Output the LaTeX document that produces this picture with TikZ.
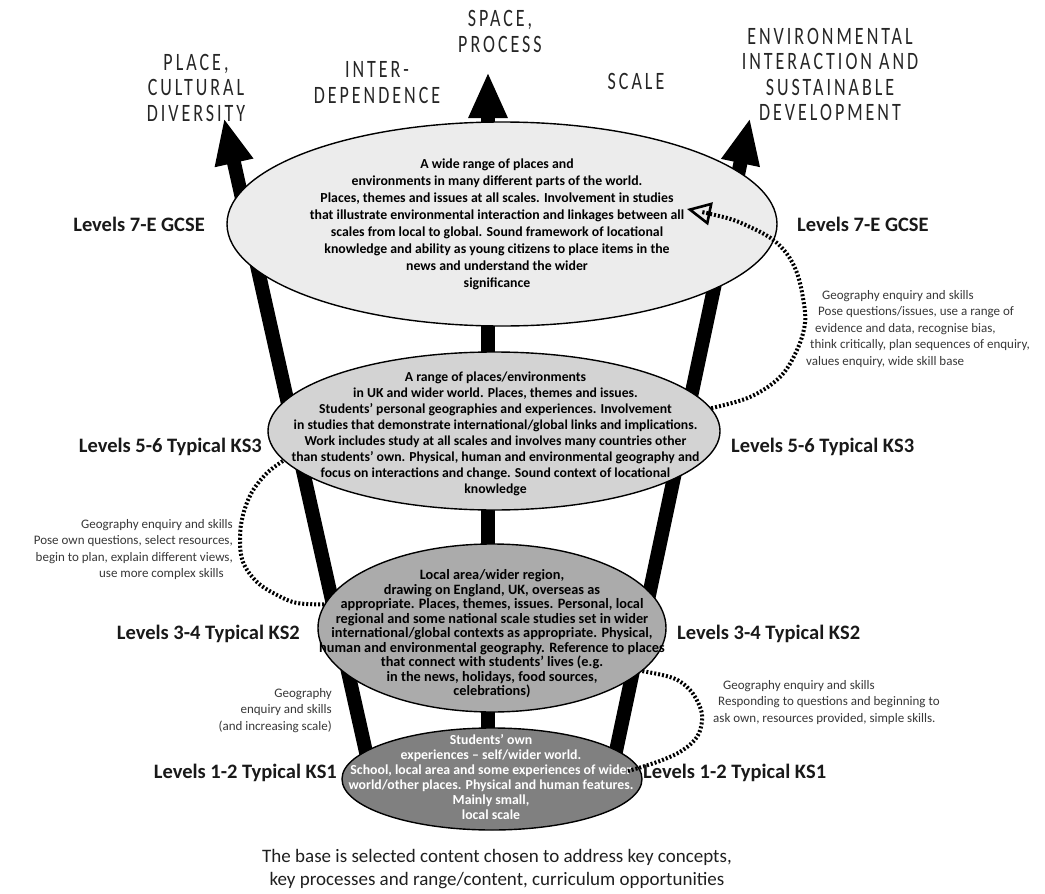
\documentclass[tikz,border=0pt]{standalone}
\usepackage{fontspec}
\setmainfont{Carlito}
\newfontfamily\capsfont[FakeStretch=0.72,LetterSpace=12]{Carlito}
\usetikzlibrary{arrows.meta,shapes.geometric,calc}
\definecolor{gA}{HTML}{ECECEC}
\definecolor{gB}{HTML}{D3D3D3}
\definecolor{gC}{HTML}{ABABAB}
\definecolor{gD}{HTML}{808080}
\begin{document}
\begin{tikzpicture}[x=1pt,y=-1pt,
  ell/.style={ellipse, draw=black, line width=1.4pt, inner sep=0pt},
  bigarrow/.style={line width=14pt, -{Triangle[length=46pt,width=36pt]}},
  dots/.style={line width=4pt, dash pattern=on 2pt off 2pt},
  lvl/.style={font=\bfseries\fontsize{20.5}{24}\selectfont, text=black!90, inner sep=0pt},
  captxt/.style={font=\capsfont\fontsize{25}{25.5}\selectfont, align=center, text=black!85, inner sep=0pt},
  note/.style={font=\fontsize{13}{16.5}\selectfont, text=black!78, inner sep=0pt},
  etext/.style={align=center, inner sep=0pt, text=black}
]
\useasboundingbox (0,0) rectangle (1045,894);
\fill[white] (0,0) rectangle (1045,894);

% big arrows
\coordinate (lb) at (370,770); \coordinate (lt) at (224,118);
\coordinate (cb) at (488,770); \coordinate (ct) at (488,72);
\coordinate (rb) at (612,770); \coordinate (rt) at (750,118);
\draw[bigarrow] (lb) -- (lt);
\draw[bigarrow] (cb) -- (ct);
\draw[bigarrow] (rb) -- (rt);

% ellipses
\node[ell, fill=gA, minimum width=550pt, minimum height=204pt] (e1) at (502,224) {};
\node[ell, fill=gB, minimum width=452pt, minimum height=158pt] (e2) at (494,431) {};
\node[ell, fill=gC, minimum width=348pt, minimum height=168pt] (e3) at (492,628) {};
\node[ell, fill=gD, minimum width=300pt, minimum height=102pt] (e4) at (492,779) {};

% ellipse texts
\node[etext, font=\bfseries\fontsize{13.8}{17}\selectfont] (t1) at (497,224.5) {A wide range of places and\\
environments in many different parts of the world.\\
Places, themes and issues at all scales. Involvement in studies\\
that illustrate environmental interaction and linkages between all\\
scales from local to global. Sound framework of locational\\
knowledge and ability as young citizens to place items in the\\
news and understand the wider\\
significance};
\node[etext, font=\bfseries\fontsize{13.7}{16}\selectfont] (t2) at (495.5,434) {A range of places/environments\\
in UK and wider world. Places, themes and issues.\\
Students' personal geographies and experiences. Involvement\\
in studies that demonstrate international/global links and implications.\\
Work includes study at all scales and involves many countries other\\
than students' own. Physical, human and environmental geography and\\
focus on interactions and change. Sound context of locational\\
knowledge};
\node[etext, font=\bfseries\fontsize{14.3}{14.5}\selectfont] (t3) at (492,634) {Local area/wider region,\\
drawing on England, UK, overseas as\\
appropriate. Places, themes, issues. Personal, local\\
regional and some national scale studies set in wider\\
international/global contexts as appropriate. Physical,\\
human and environmental geography. Reference to places\\
that connect with students' lives (e.g.\\
in the news, holidays, food sources,\\
celebrations)};
\node[etext, text=white, font=\bfseries\fontsize{13.8}{15}\selectfont] (t4) at (491,777.5) {Students' own\\
experiences -- self/wider world.\\
School, local area and some experiences of wider\\
world/other places. Physical and human features.\\
Mainly small,\\
local scale};

% dotted connectors
\coordinate (aT) at (687,209);
\draw[dots, -{Triangle[open,length=24pt,width=23pt,line width=2.6pt]}]
  plot[smooth, tension=0.6] coordinates {(e2.6) (750,397) (780,377) (797,350) (805,323) (803,298) (797,273) (787,254) (772,239) (750,227) (727,218) (aT)};
\draw[dots] plot[smooth, tension=0.6] coordinates {(e3.172) (297,603) (277,595) (257,582) (243,562) (240,538) (243,515) (252,492) (267,473) (e2.188)};
\coordinate (cE) at (628,771);
\draw[dots] plot[smooth, tension=0.6] coordinates {(e3.-16) (673,678) (690,690) (700,707) (702,721) (697,737) (683,750) (665,759) (645,766) (cE)};

% top labels
\node[captxt] (c1) at (196,87.5) {PLACE,\\CULTURAL\\DIVERSITY};
\node[captxt] (c2) at (377,82.5) {INTER-\\DEPENDENCE};
\node[captxt] (c3) at (500,31.5) {SPACE,\\PROCESS};
\node[captxt] (c4) at (636,81) {SCALE};
\node[captxt] (c5) at (830,74.5) {ENVIRONMENTAL\\INTERACTION AND\\SUSTAINABLE\\DEVELOPMENT};

% level labels
\node[lvl, anchor=east] (l7L) at (205,224) {Levels 7-E GCSE};
\node[lvl, anchor=west] (l7R) at (797,224) {Levels 7-E GCSE};
\node[lvl, anchor=east] (l5L) at (262,447) {Levels 5-6 Typical KS3};
\node[lvl, anchor=west] (l5R) at (731,447) {Levels 5-6 Typical KS3};
\node[lvl, anchor=east] (l3L) at (300,634) {Levels 3-4 Typical KS2};
\node[lvl, anchor=west] (l3R) at (677,634) {Levels 3-4 Typical KS2};
\node[lvl, anchor=east] (l1L) at (337,773) {Levels 1-2 Typical KS1};
\node[lvl, anchor=west] (l1R) at (643,773) {Levels 1-2 Typical KS1};

% notes
\node[note, align=left, anchor=north west] (n1) at (806,290) {\hspace*{16pt}Geography enquiry and skills\\
\hspace*{12pt}Pose questions/issues, use a range of\\
\hspace*{9pt}evidence and data, recognise bias,\\
\hspace*{4pt}think critically, plan sequences of enquiry,\\
values enquiry, wide skill base};
\node[note, align=right, anchor=north east] (n2) at (233,519) {Geography enquiry and skills\\
Pose own questions, select resources,\hspace*{12pt}\\
begin to plan, explain different views,\hspace*{12pt}\\
use more complex skills\hspace*{9pt}};
\node[note, align=right, anchor=north east] (n3) at (332,688) {Geography\\
enquiry and skills\\
(and increasing scale)};
\node[note, align=left, anchor=north west] (n4) at (713,680) {\hspace*{10pt}Geography enquiry and skills\\
\hspace*{5pt}Responding to questions and beginning to\\
ask own, resources provided, simple skills.};

% caption
\node[etext, font=\fontsize{19}{23}\selectfont, text=black!88] (cap) at (497,869.5) {The base is selected content chosen to address key concepts,\\
key processes and range/content, curriculum opportunities};
\end{tikzpicture}
\end{document}
